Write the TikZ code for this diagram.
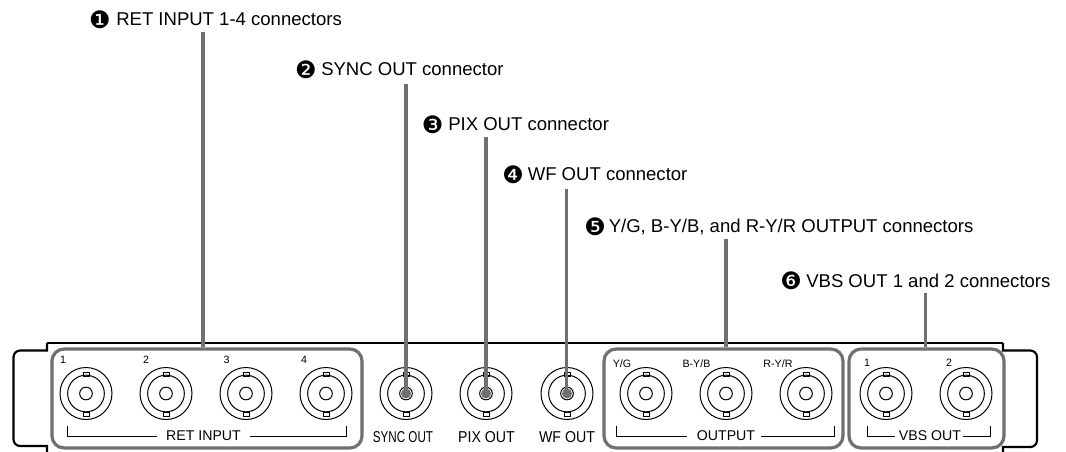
\documentclass[tikz,border=0pt]{standalone}
\usepackage{fontspec}
\setmainfont{Liberation Sans}
\newfontfamily\symfont{DejaVu Sans}
\definecolor{leadgray}{HTML}{707070}
\tikzset{
  x=0.75pt,y=-0.75pt,
  panel/.style={draw=black,line width=1.6pt,rounded corners=5pt},
  groupbox/.style={draw=leadgray,line width=2.4pt,rounded corners=9pt},
  leadline/.style={draw=leadgray,line width=2.4pt},
  bracketline/.style={draw=black,line width=0.7pt},
  outerring/.style={circle,draw=black,line width=0.75pt,minimum size=39pt,inner sep=0pt,outer sep=0pt},
  midring/.style={circle,draw=black,line width=0.75pt,minimum size=27.5pt,inner sep=0pt,outer sep=0pt},
  pinring/.style={circle,draw=black,line width=0.75pt,minimum size=9.5pt,inner sep=0pt,outer sep=0pt},
  pinfill/.style={circle,fill=leadgray,minimum size=7.5pt,inner sep=0pt},
  tabbox/.style={draw=black,fill=white,line width=0.6pt,minimum width=4.4pt,minimum height=3pt,inner sep=0pt},
  callout/.style={anchor=base west,inner sep=0pt,font=\fontsize{13.9}{15}\selectfont},
  numsign/.style={anchor=center,inner sep=0pt,font=\symfont\fontsize{18}{19}\selectfont},
  grouplabel/.style={inner sep=0pt,font=\fontsize{10.6}{12}\selectfont},
  portlabel/.style={inner sep=0pt,font=\fontsize{11.8}{13}\selectfont},
  tinylabel/.style={inner sep=0pt,font=\fontsize{8}{9}\selectfont},
}
\newcommand{\bnc}[3]{% name, x, y
  \node[outerring] (#1) at (#2,#3) {};
  \node[tabbox] (#1t) at (#2,#3-19.6) {};
  \node[tabbox] (#1b) at (#2,#3+20.4) {};
  \node[midring,fill=none] (#1m) at (#2,#3) {};
  \node[pinring] (#1p) at (#2,#3) {};
}
\begin{document}
\begin{tikzpicture}
\useasboundingbox (0,0) rectangle (1066,452);
\fill[white] (0,0) rectangle (1066,452);
% panel
\draw[panel,rounded corners=0pt] (47,343) -- (1003,343);
\draw[panel] (47,343) [sharp corners] -- (47,350.5) [rounded corners=5pt] -- (13.5,350.5) -- (13.5,446) [sharp corners] -- (47,446) -- (47,452);
\draw[panel] (1003,343) [sharp corners] -- (1003,350.5) [rounded corners=5pt] -- (1037,350.5) -- (1037,447) [sharp corners] -- (1003,447) -- (1003,452);
% connectors
\bnc{r1}{86}{393.5}\bnc{r2}{166}{393.5}\bnc{r3}{246}{393.5}\bnc{r4}{326}{393.5}
\bnc{sy}{406}{393.5}\bnc{px}{486}{393.5}\bnc{wf}{567}{393.5}
\bnc{o1}{646}{393.5}\bnc{o2}{726}{393.5}\bnc{o3}{806}{393.5}
\bnc{v1}{886}{393.5}\bnc{v2}{966}{393.5}
\node[pinfill] at (sy) {};\node[pinfill] at (px) {};\node[pinfill] at (wf) {};
% group boxes
\node[groupbox,minimum width=232.5pt,minimum height=74.2pt,inner sep=0pt] (gret) at (207,398.5) {};
\node[groupbox,minimum width=179.2pt,minimum height=74.2pt,inner sep=0pt] (gout) at (723.5,398.5) {};
\node[groupbox,minimum width=116.2pt,minimum height=74.2pt,inner sep=0pt] (gvbs) at (926.5,398.5) {};
% callouts
\node[numsign] (n1) at (100,19.7) {❶};
\node[callout] (t1) at (116,25.7) {RET INPUT 1-4 connectors};
\node[numsign] (n2) at (306,69.7) {❷};
\node[callout] (t2) at (321,75.7) {SYNC OUT connector};
\node[numsign] (n3) at (432.7,125) {❸};
\node[callout] (t3) at (448,131) {PIX OUT connector};
\node[numsign] (n4) at (513,174.5) {❹};
\node[callout] (t4) at (527.5,180.5) {WF OUT connector};
\node[numsign] (n5) at (595,227) {❺};
\node[callout] (t5) at (608.5,233) {Y/G, B-Y/B, and R-Y/R OUTPUT connectors};
\node[numsign] (n6) at (791,281) {❻};
\node[callout] (t6) at (806,287.3) {VBS OUT 1 and 2 connectors};
% lead lines
\coordinate (c1) at (203,31.7);
\coordinate (c2) at (406,84);
\coordinate (c3) at (486,137);
\coordinate (c4) at (566.7,189);
\coordinate (c5) at (726,239);
\coordinate (c6) at (925.3,292.7);
\draw[leadline] (c1) -- (c1 |- gret.north);
\draw[leadline] (c2) -- (sy.center);
\draw[leadline] (c3) -- (px.center);
\draw[leadline] (c4) -- (c4 |- wf.center);
\draw[leadline] (c5) -- (c5 |- gout.north);
\draw[leadline] (c6) -- (c6 |- gvbs.north);
% bracket labels
\node[grouplabel] (lret) at (203.5,436) {RET INPUT};
\node[grouplabel] (lout) at (726,436) {OUTPUT};
\node[grouplabel] (lvbs) at (930,436) {VBS OUT};
\node[portlabel] (lsy) at (403,437.5) {\scalebox{0.74}[1]{SYNC OUT}};
\node[portlabel] (lpx) at (486.5,437.5) {\scalebox{0.9}[1]{PIX OUT}};
\node[portlabel] (lwf) at (567,437.5) {\scalebox{0.9}[1]{WF OUT}};
\coordinate (b1a) at (67,425.5);\coordinate (b1b) at (346,425.5);
\coordinate (b2a) at (616,425.5);\coordinate (b2b) at (834,425.5);
\coordinate (b3a) at (867,425.5);\coordinate (b3b) at (990,425.5);
\draw[bracketline] (b1a) |- ([xshift=-7pt]lret.west);
\draw[bracketline] (b1b) |- ([xshift=7pt]lret.east);
\draw[bracketline] (b2a) |- ([xshift=-7pt]lout.west);
\draw[bracketline] (b2b) |- ([xshift=4pt]lout.east);
\draw[bracketline] (b3a) |- ([xshift=-3pt]lvbs.west);
\draw[bracketline] (b3b) |- ([xshift=1pt]lvbs.east);
% small labels
\node[tinylabel] (s1) at (63,360) {1};
\node[tinylabel] (s2) at (146,360) {2};
\node[tinylabel] (s3) at (226.5,360) {3};
\node[tinylabel] (s4) at (304,360) {4};
\node[tinylabel] (s5) at (622,364) {Y/G};
\node[tinylabel] (s6) at (696.5,364) {B-Y/B};
\node[tinylabel] (s7) at (778,364) {R-Y/R};
\node[tinylabel] (s8) at (867,363) {1};
\node[tinylabel] (s9) at (949,363) {2};
\end{tikzpicture}
\end{document}
